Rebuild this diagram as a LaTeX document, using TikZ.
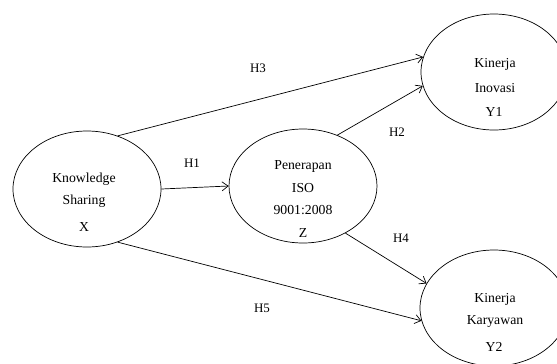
\documentclass[tikz,border=0pt]{standalone}
\usepackage{fontspec}
\setmainfont{Liberation Serif}
\usetikzlibrary{shapes.geometric,arrows.meta}
\begin{document}
\begin{tikzpicture}[x=1bp,y=-1bp,
  var/.style={draw=black,line width=0.7bp,ellipse,inner sep=0pt},
  txt/.style={anchor=base,inner sep=0pt,font=\fontsize{13.8}{16}\selectfont},
  lbl/.style={inner sep=0pt,font=\fontsize{13}{15}\selectfont},
  conn/.style={draw=black,line width=0.7bp,-{Straight Barb[length=6bp,width=9bp]}}]
\useasboundingbox (0,0) rectangle (557,363);
% ellipses
\node[var,minimum width=148bp,minimum height=116bp] (X) at (87,189) {};
\node[var,minimum width=148bp,minimum height=114bp] (Z) at (303,186) {};
\node[var,minimum width=146bp,minimum height=116bp] (Y1) at (494,72) {};
\node[var,minimum width=148bp,minimum height=116bp] (Y2) at (494,308) {};
% texts
\node[txt] (x1) at (84,182) {Knowledge};
\node[txt] (x2) at (84,204) {Sharing};
\node[txt] (x3) at (84,231) {X};
\node[txt] (z1) at (303,169) {Penerapan};
\node[txt] (z2) at (303,192) {ISO};
\node[txt] (z3) at (303,214) {9001:2008};
\node[txt] (z4) at (303,237) {Z};
\node[txt] (a1) at (495,67) {Kinerja};
\node[txt] (a2) at (495,92) {Inovasi};
\node[txt] (a3) at (494,116) {Y1};
\node[txt] (b1) at (495,302) {Kinerja};
\node[txt] (b2) at (495,324) {Karyawan};
\node[txt] (b3) at (494,351) {Y2};
% connectors
\draw[conn] (X.east) -- (Z.west);
\draw[conn] (X.60) -- (Y1.168);
\draw[conn] (Z.56) -- (Y1.191);
\draw[conn] (Z.-48) -- (Y2.160);
\draw[conn] (X.-60) -- (Y2.190);
% labels
\node[lbl] (h1) at (192,163) {H1};
\node[lbl] (h3) at (258,68) {H3};
\node[lbl] (h2) at (397,132) {H2};
\node[lbl] (h4) at (401,238) {H4};
\node[lbl] (h5) at (262,308) {H5};
\end{tikzpicture}
\end{document}
